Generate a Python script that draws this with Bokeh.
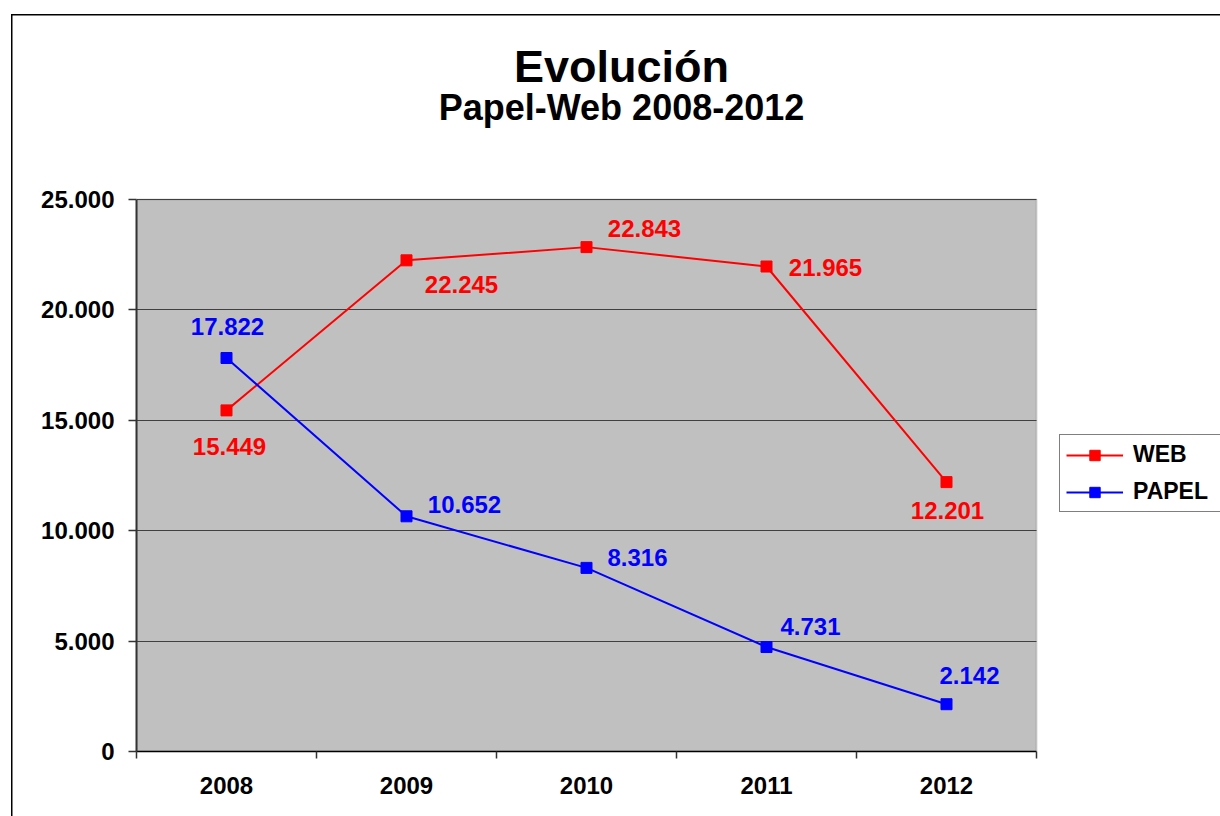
from bokeh.plotting import figure
from bokeh.models import (ColumnDataSource, Range1d, FixedTicker, CustomJSTickFormatter,
                          Legend, LegendItem, Label, BoxAnnotation)
from bokeh.core.properties import value
from bokeh.embed import file_html
from bokeh.resources import INLINE

# ---- data ----
years = ["2008", "2009", "2010", "2011", "2012"]
web = [15449, 22245, 22843, 21965, 12201]
papel = [17822, 10652, 8316, 4731, 2142]
y_ticks = [0, 5000, 10000, 15000, 20000, 25000]
series_names = ["WEB", "PAPEL"]
title_text = "Evolución"
subtitle_text = "Papel-Web 2008-2012"

# ---- label placement (screen px offsets, style only) ----
web_dx = [3, 55, 58, 59, 1]
web_dy = [36, 24, -19, 1, 28]
papel_dx = [1, 58, 51, 44, 23]
papel_dy = [-31, -12, -10, -21, -29]

FONT = "Liberation Sans"
RED = "#FF0000"
BLUE = "#0000FF"

W, H = 1220, 816
LEFT, BOTTOM = 136, 65
PLOT_W, PLOT_H = 900, 552         # size of the grey plotting area in px


def fmt(v):
    return f"{v:,}".replace(",", ".")


xs = list(range(len(years)))
x_lo, x_hi = xs[0] - 0.5, xs[-1] + 0.5
y_lo, y_hi = y_ticks[0], y_ticks[-1]
# the frame fills the whole chart area (white), the grey plotting area is drawn inside it
x_end = x_lo + (W - LEFT) / (PLOT_W / len(years))
y_end = y_lo + (H - BOTTOM) / (PLOT_H / (y_hi - y_lo))

p = figure(width=W, height=H, output_backend="svg", toolbar_location=None,
           x_range=Range1d(x_lo, x_end), y_range=Range1d(y_lo, y_end),
           min_border_left=LEFT, min_border_right=0,
           min_border_top=0, min_border_bottom=BOTTOM, title=None)
p.background_fill_color = "white"
p.border_fill_color = "white"
p.border_fill_alpha = 0.0
p.background_fill_alpha = 0.0
p.outline_line_color = None
# outer chart-area border (left and top edges visible, as in the reference)
p.styles = {
    "background-color": "white",
    "background-image": "linear-gradient(#000, #000), linear-gradient(#000, #000)",
    "background-size": "1.5px 100%, 100% 1.5px",
    "background-position": "11px 14px, 11px 14px",
    "background-repeat": "no-repeat",
}

# grey plotting area
p.add_layout(BoxAnnotation(left=x_lo, right=x_hi, bottom=y_lo, top=y_hi,
                           fill_color="#C0C0C0", fill_alpha=1.0,
                           line_color="#808080", line_width=2, level="image"))

# y axis
y_ticker = FixedTicker(ticks=y_ticks)
yaxis = p.yaxis[0]
yaxis.ticker = y_ticker
yaxis.bounds = (y_lo, y_hi)
yaxis.formatter = CustomJSTickFormatter(
    code="return tick.toFixed(0).replace(/\\B(?=(\\d{3})+(?!\\d))/g, '.');")
yaxis.axis_line_color = "#333333"
yaxis.axis_line_width = 2
yaxis.major_tick_line_color = "#333333"
yaxis.major_tick_line_width = 1.5
yaxis.major_tick_in = 0
yaxis.major_tick_out = 8
yaxis.minor_tick_line_color = None
yaxis.major_label_standoff = 14
yaxis.major_label_text_font = FONT
yaxis.major_label_text_font_style = "bold"
yaxis.major_label_text_font_size = "24px"
yaxis.major_label_text_color = "black"

# x axis: labels at category centres, ticks on category boundaries
xaxis = p.xaxis[0]
xaxis.ticker = FixedTicker(ticks=xs, minor_ticks=[i - 0.5 for i in range(len(years) + 1)])
xaxis.formatter = CustomJSTickFormatter(args=dict(labels=years),
                                        code="return labels[Math.round(tick)];")
xaxis.bounds = (x_lo, x_hi)
xaxis.axis_line_color = "black"
xaxis.axis_line_width = 1.5
xaxis.major_tick_line_color = None
xaxis.major_tick_in = 0
xaxis.major_tick_out = 0
xaxis.minor_tick_line_color = "#333333"
xaxis.minor_tick_line_width = 1.5
xaxis.minor_tick_in = 0
xaxis.minor_tick_out = 7
xaxis.major_label_standoff = 18
xaxis.major_label_text_font = FONT
xaxis.major_label_text_font_style = "bold"
xaxis.major_label_text_font_size = "24px"
xaxis.major_label_text_color = "black"

p.xgrid.visible = False
p.ygrid.ticker = y_ticker
p.ygrid.cross_bounds = (x_lo, x_hi)
p.ygrid.grid_line_color = "#404040"
p.ygrid.grid_line_width = 1

# series
r_web_l = p.line(xs, web, line_color=RED, line_width=2)
r_web_s = p.scatter(xs, web, marker="square", size=11, fill_color=RED, line_color=RED)
r_pap_l = p.line(xs, papel, line_color=BLUE, line_width=2)
r_pap_s = p.scatter(xs, papel, marker="square", size=11, fill_color=BLUE, line_color=BLUE)

# data labels
src_web = ColumnDataSource(dict(x=xs, y=web, text=[fmt(v) for v in web], dx=web_dx, dy=web_dy))
src_pap = ColumnDataSource(dict(x=xs, y=papel, text=[fmt(v) for v in papel], dx=papel_dx, dy=papel_dy))
for src, col in ((src_web, RED), (src_pap, BLUE)):
    p.text(x="x", y="y", text="text", x_offset="dx", y_offset="dy", source=src,
           text_color=col, text_font=value(FONT), text_font_style="bold",
           text_font_size="24px", text_align="center", text_baseline="middle")

# legend, beside the grey area
legend = Legend(items=[LegendItem(label=series_names[0], renderers=[r_web_l, r_web_s]),
                       LegendItem(label=series_names[1], renderers=[r_pap_l, r_pap_s])],
                location=(923, 239), orientation="vertical",
                border_line_color="black", border_line_width=1,
                background_fill_color="white", background_fill_alpha=1.0,
                padding=6, margin=0, spacing=10, glyph_width=57, glyph_height=26,
                label_standoff=10, label_width=100, label_height=26,
                label_text_font=FONT, label_text_font_style="bold",
                label_text_font_size="23px", label_text_color="black")
p.add_layout(legend)

# titles
p.add_layout(Label(x=621, y=66, x_units="canvas", y_units="canvas", text=title_text,
                   text_align="center", text_baseline="alphabetic", text_font=FONT,
                   text_font_style="bold", text_font_size="45px", text_color="black"))
p.add_layout(Label(x=621, y=107, x_units="canvas", y_units="canvas", text=subtitle_text,
                   text_align="center", text_baseline="alphabetic", text_font=FONT,
                   text_font_style="bold", text_font_size="36px", text_color="black"))

open("out.html", "w").write(file_html(p, INLINE))
